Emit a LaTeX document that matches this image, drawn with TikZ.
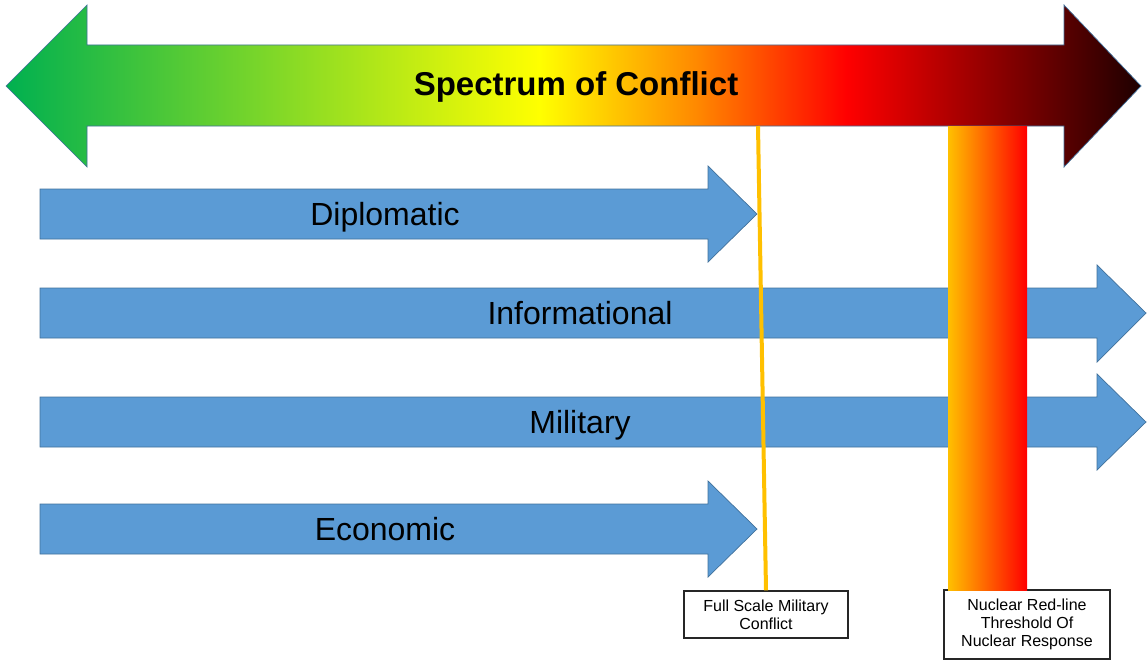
\documentclass[tikz,border=0pt]{standalone}
\usepackage{fontspec}
\setmainfont{Liberation Sans}
\usepackage{tikz}
\definecolor{spgreen}{RGB}{0,176,80}
\definecolor{spyellow}{RGB}{255,255,0}
\definecolor{sporange}{RGB}{255,135,0}
\definecolor{spred}{RGB}{255,0,0}
\definecolor{spdark}{RGB}{30,0,0}
\definecolor{trackblue}{RGB}{91,155,213}
\definecolor{edgeblue}{RGB}{65,113,156}
\definecolor{lineyellow}{RGB}{255,192,0}
\pgfdeclarehorizontalshading{spectrumshade}{100bp}{color(0bp)=(spgreen); color(25bp)=(spgreen); color(48.5bp)=(spyellow); color(55.5bp)=(sporange); color(62bp)=(spred); color(75bp)=(spdark); color(100bp)=(spdark)}
\tikzset{
    track/.style={fill=trackblue,draw=edgeblue,line width=0.7pt},
    tracklabel/.style={anchor=base,inner sep=0pt,font=\fontsize{32}{38}\selectfont},
    tag/.style={draw=black!85,fill=white,line width=1.2pt,align=center,inner sep=0pt,font=\fontsize{16}{18}\selectfont}
}

\begin{document}
\begin{tikzpicture}[x=1pt,y=-1pt]
    \useasboundingbox (0,0) rectangle (1147,661);
    % spectrum arrow
    \shadedraw[shading=spectrumshade,draw=edgeblue,line width=0.7pt] (6,86) -- (87,5) -- (87,45) -- (1064,45) -- (1064,5) -- (1141,86) -- (1064,167) -- (1064,126) -- (87,126) -- (87,167) -- cycle;
    \node[anchor=base,inner sep=0pt,font=\fontsize{33}{40}\selectfont\bfseries] (spectrum) at (576,95) {Spectrum of Conflict};
    % instruments of power
    \draw[track] (40,189) -- (708,189) -- (708,166) -- (757,214) -- (708,262) -- (708,239) -- (40,239) -- cycle;
    \draw[track] (40,288) -- (1097,288) -- (1097,265) -- (1146,313) -- (1097,362) -- (1097,338) -- (40,338) -- cycle;
    \draw[track] (40,397) -- (1097,397) -- (1097,374) -- (1146,422) -- (1097,470) -- (1097,447) -- (40,447) -- cycle;
    \draw[track] (40,504) -- (708,504) -- (708,481) -- (757,529) -- (708,577) -- (708,554) -- (40,554) -- cycle;
    \node[tracklabel] (dip) at (385,225) {Diplomatic};
    \node[tracklabel] (info) at (580,324) {Informational};
    \node[tracklabel] (mil) at (580,433) {Military};
    \node[tracklabel] (econ) at (385,540) {Economic};
    % thresholds
    \node[tag,minimum width=164pt,minimum height=47pt] (fsm) at (766,614.5) {Full Scale Military\\Conflict};
    \node[tag,minimum width=166pt,minimum height=69pt] (nuke) at (1027,624.5) {Nuclear Red-line\\Threshold Of\\Nuclear Response};
    \coordinate (fsmtop) at (758,126);
    \draw[lineyellow,line width=4pt] (fsmtop) -- (fsm.north);
    \shade[left color=lineyellow,right color=spred] (948,126) rectangle (1027,590);
\end{tikzpicture}
\end{document}
